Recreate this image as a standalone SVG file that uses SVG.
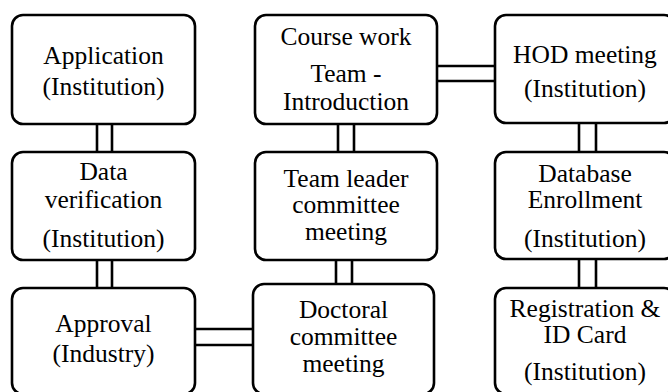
<svg xmlns="http://www.w3.org/2000/svg" width="668" height="392" viewBox="0 0 668 392">
<style>
.box{fill:#fff;stroke:#000;stroke-width:2.6}
.t{font-size:25.5px;fill:#000;text-anchor:middle}
.c{stroke:#000;stroke-width:2.6;fill:none}
</style>
<rect width="668" height="392" fill="#fff"/>
<g id="connectors">
<path class="c" d="M97 124V152M112 124V152"/>
<path class="c" d="M97 260V288M112 260V288"/>
<path class="c" d="M338 124V152M354 124V152"/>
<path class="c" d="M336 260V284M352 260V284"/>
<path class="c" d="M579 123V152M596 123V152"/>
<path class="c" d="M579 259V288M596 259V288"/>
<path class="c" d="M437 66H495M437 81H495"/>
<path class="c" d="M195 329H253M195 345H253"/>
</g>
<g font-family="Liberation Serif, Tinos, Times New Roman, DejaVu Serif, serif">
<g id="application">
<rect class="box" x="12" y="15" width="183" height="109" rx="11"/>
<text class="t" x="103.5" y="64">Application</text>
<text class="t" x="103.5" y="95">(Institution)</text>
</g>
<g id="data-verification">
<rect class="box" x="12" y="152" width="183" height="108" rx="11"/>
<text class="t" x="103.5" y="180">Data</text>
<text class="t" x="103.5" y="208">verification</text>
<text class="t" x="103.5" y="247">(Institution)</text>
</g>
<g id="approval">
<rect class="box" x="12" y="288" width="183" height="106" rx="11"/>
<text class="t" x="103.5" y="332">Approval</text>
<text class="t" x="103.5" y="362">(Industry)</text>
</g>
<g id="course-work">
<rect class="box" x="255" y="15" width="182" height="109" rx="11"/>
<text class="t" x="346" y="45">Course work</text>
<text class="t" x="346" y="82">Team -</text>
<text class="t" x="346" y="110">Introduction</text>
</g>
<g id="team-leader">
<rect class="box" x="255" y="152" width="182" height="108" rx="11"/>
<text class="t" x="346" y="187">Team leader</text>
<text class="t" x="346" y="213">committee</text>
<text class="t" x="346" y="240">meeting</text>
</g>
<g id="doctoral">
<rect class="box" x="253" y="284" width="181" height="110" rx="11"/>
<text class="t" x="343.5" y="318">Doctoral</text>
<text class="t" x="343.5" y="345">committee</text>
<text class="t" x="343.5" y="372">meeting</text>
</g>
<g id="hod">
<rect class="box" x="495" y="15" width="180" height="108" rx="11"/>
<text class="t" x="585" y="63">HOD meeting</text>
<text class="t" x="585" y="97">(Institution)</text>
</g>
<g id="database">
<rect class="box" x="495" y="152" width="180" height="107" rx="11"/>
<text class="t" x="585" y="182">Database</text>
<text class="t" x="585" y="208">Enrollment</text>
<text class="t" x="585" y="247">(Institution)</text>
</g>
<g id="registration">
<rect class="box" x="495" y="288" width="180" height="106" rx="11"/>
<text class="t" x="585" y="317">Registration &amp;</text>
<text class="t" x="585" y="343">ID Card</text>
<text class="t" x="585" y="380">(Institution)</text>
</g>
</g>
</svg>
